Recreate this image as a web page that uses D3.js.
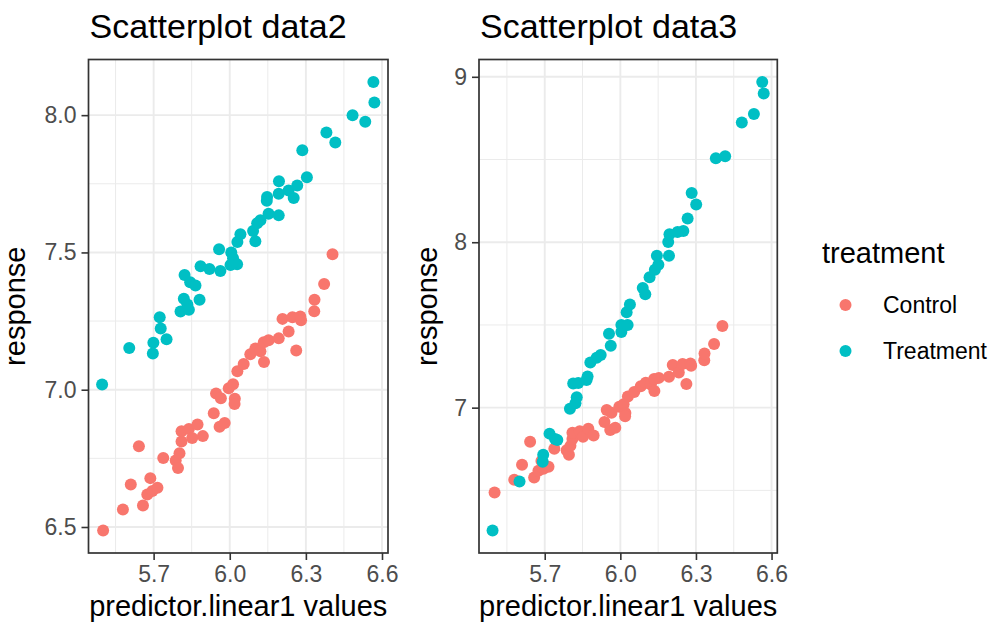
<!DOCTYPE html>
<html>
<head>
<meta charset="utf-8">
<script src="https://cdn.jsdelivr.net/npm/d3@7"></script>
<style>
  html, body { margin: 0; padding: 0; background: #ffffff; }
  svg { display: block; font-family: "Liberation Sans", Arial, Helvetica, sans-serif; }
</style>
</head>
<body>
<svg id="chart" width="993" height="625"></svg>
<script>
// Control group (same measurements in both data sets)
const controlX = [5.501,5.579,5.610,5.642,5.658,5.675,5.687,5.695,5.715,5.738,5.787,5.796,5.802,5.810,5.810,5.839,5.852,5.873,5.894,5.937,5.946,5.960,5.965,5.980,5.996,6.013,6.020,6.019,6.030,6.055,6.081,6.101,6.121,6.135,6.134,6.153,6.193,6.208,6.232,6.247,6.262,6.278,6.281,6.333,6.334,6.372,6.405];
const controlY = [6.487,6.564,6.655,6.794,6.578,6.618,6.678,6.631,6.643,6.751,6.742,6.715,6.769,6.811,6.849,6.857,6.824,6.873,6.831,6.914,6.986,6.865,6.969,6.879,7.005,7.020,6.967,6.948,7.067,7.094,7.129,7.150,7.140,7.101,7.173,7.180,7.187,7.258,7.212,7.264,7.143,7.267,7.253,7.286,7.328,7.385,7.493];

// Treatment group, data2
const treat2X = [5.497,5.604,5.697,5.699,5.724,5.728,5.751,5.806,5.819,5.833,5.839,5.822,5.844,5.865,5.881,5.885,5.920,5.963,5.958,6.006,6.013,6.029,6.003,6.030,6.042,6.092,6.101,6.108,6.121,6.153,6.193,6.147,6.146,6.193,6.194,6.232,6.252,6.266,6.304,6.286,6.381,6.416,6.484,6.534,6.566,6.570];
const treat2Y = [7.019,7.152,7.132,7.171,7.264,7.223,7.184,7.285,7.331,7.310,7.291,7.418,7.391,7.380,7.328,7.450,7.440,7.432,7.512,7.500,7.479,7.457,7.454,7.538,7.566,7.578,7.541,7.606,7.617,7.641,7.635,7.702,7.688,7.714,7.759,7.726,7.698,7.744,7.774,7.872,7.937,7.900,8.000,7.976,8.121,8.046];

// Treatment group, data3
const treat3X = [5.493,5.600,5.692,5.694,5.719,5.741,5.750,5.800,5.822,5.827,5.813,5.833,5.866,5.870,5.881,5.906,5.922,5.962,5.955,6.004,6.004,6.029,6.025,6.038,6.099,6.089,6.116,6.137,6.151,6.145,6.193,6.190,6.195,6.227,6.250,6.267,6.301,6.283,6.379,6.416,6.482,6.530,6.563,6.569];
const treat3Y = [6.257,6.554,6.673,6.715,6.843,6.810,6.804,6.993,7.026,7.063,7.146,7.149,7.167,7.188,7.273,7.301,7.318,7.374,7.447,7.458,7.500,7.500,7.577,7.623,7.686,7.724,7.789,7.834,7.864,7.918,7.918,8.002,8.048,8.062,8.068,8.144,8.228,8.298,8.508,8.520,8.724,8.775,8.969,8.899];

// Axis ticks
const xTicks = [5.7, 6.0, 6.3, 6.6];
const xTickLabels = ["5.7", "6.0", "6.3", "6.6"];
const y2Ticks = [6.5, 7.0, 7.5, 8.0];
const y2TickLabels = ["6.5", "7.0", "7.5", "8.0"];
const y3Ticks = [7, 8, 9];
const y3TickLabels = ["7", "8", "9"];

const groups = ["Control", "Treatment"];
const groupColors = ["#F8766D", "#00BFC4"];

const svg = d3.select("#chart");
const color = d3.scaleOrdinal().domain(groups).range(groupColors);

function zip(xs, ys, g) {
  return xs.map((x, i) => ({ x: x, y: ys[i], g: g }));
}

function expandedDomain(values) {
  const [lo, hi] = d3.extent(values);
  const pad = (hi - lo) * 0.05;
  return [lo - pad, hi + pad];
}

function midpoints(ticks) {
  const step = ticks[1] - ticks[0];
  const out = [ticks[0] - step / 2];
  ticks.forEach(t => out.push(t + step / 2));
  return out;
}

function drawPanel(cfg) {
  const { left, right, top, bottom } = cfg.box;
  const points = zip(controlX, controlY, "Control").concat(zip(cfg.tx, cfg.ty, "Treatment"));

  const x = d3.scaleLinear()
    .domain(expandedDomain(points.map(d => d.x)))
    .range([left, right]);
  const y = d3.scaleLinear()
    .domain(expandedDomain(points.map(d => d.y)))
    .range([bottom, top]);

  const g = svg.append("g");

  // minor grid
  const xMinor = midpoints(cfg.xTicks).filter(v => v > x.domain()[0] && v < x.domain()[1]);
  const yMinor = midpoints(cfg.yTicks).filter(v => v > y.domain()[0] && v < y.domain()[1]);
  g.selectAll(".xminor").data(xMinor).join("line")
    .attr("x1", d => x(d)).attr("x2", d => x(d))
    .attr("y1", top).attr("y2", bottom)
    .attr("stroke", "#EBEBEB").attr("stroke-width", 1);
  g.selectAll(".yminor").data(yMinor).join("line")
    .attr("y1", d => y(d)).attr("y2", d => y(d))
    .attr("x1", left).attr("x2", right)
    .attr("stroke", "#EBEBEB").attr("stroke-width", 1);

  // major grid
  g.selectAll(".xmajor").data(cfg.xTicks).join("line")
    .attr("x1", d => x(d)).attr("x2", d => x(d))
    .attr("y1", top).attr("y2", bottom)
    .attr("stroke", "#EBEBEB").attr("stroke-width", 1.9);
  g.selectAll(".ymajor").data(cfg.yTicks).join("line")
    .attr("y1", d => y(d)).attr("y2", d => y(d))
    .attr("x1", left).attr("x2", right)
    .attr("stroke", "#EBEBEB").attr("stroke-width", 1.9);

  // points
  g.append("g").selectAll("circle").data(points).join("circle")
    .attr("cx", d => x(d.x))
    .attr("cy", d => y(d.y))
    .attr("r", 6)
    .attr("fill", d => color(d.g));

  // panel border
  g.append("rect")
    .attr("x", left).attr("y", top)
    .attr("width", right - left).attr("height", bottom - top)
    .attr("fill", "none").attr("stroke", "#333333").attr("stroke-width", 1.7);

  // axes
  const xAxis = d3.axisBottom(x)
    .tickValues(cfg.xTicks)
    .tickFormat((d, i) => cfg.xLabels[i])
    .tickSize(7).tickPadding(6);
  const yAxis = d3.axisLeft(y)
    .tickValues(cfg.yTicks)
    .tickFormat((d, i) => cfg.yLabels[i])
    .tickSize(7).tickPadding(5);

  const gx = g.append("g").attr("transform", `translate(0,${bottom})`).call(xAxis);
  const gy = g.append("g").attr("transform", `translate(${left},0)`).call(yAxis);
  [gx, gy].forEach(a => {
    a.select(".domain").remove();
    a.selectAll(".tick line").attr("stroke", "#333333").attr("stroke-width", 1.6);
    a.selectAll(".tick text")
      .attr("fill", "#4D4D4D")
      .style("font-size", "23px")
      .style("font-family", "'Liberation Sans', Arial, sans-serif");
  });

  // title
  g.append("text")
    .attr("x", left + 1).attr("y", 38)
    .attr("fill", "#000")
    .style("font-size", "34px")
    .text(cfg.title);

  // axis titles
  g.append("text")
    .attr("x", (left + right) / 2).attr("y", 616)
    .attr("text-anchor", "middle")
    .attr("fill", "#000")
    .style("font-size", "29px")
    .text("predictor.linear1 values");

  g.append("text")
    .attr("transform", `translate(${cfg.yTitleX},${(top + bottom) / 2}) rotate(-90)`)
    .attr("text-anchor", "middle")
    .attr("fill", "#000")
    .style("font-size", "29px")
    .text("response");
}

drawPanel({
  title: "Scatterplot data2",
  box: { left: 88.5, right: 388, top: 59.5, bottom: 553 },
  tx: treat2X, ty: treat2Y,
  xTicks: xTicks, xLabels: xTickLabels,
  yTicks: y2Ticks, yLabels: y2TickLabels,
  yTitleX: 25
});

drawPanel({
  title: "Scatterplot data3",
  box: { left: 479, right: 777.3, top: 59.5, bottom: 553 },
  tx: treat3X, ty: treat3Y,
  xTicks: xTicks, xLabels: xTickLabels,
  yTicks: y3Ticks, yLabels: y3TickLabels,
  yTitleX: 437
});

// legend
const legend = svg.append("g");
legend.append("text")
  .attr("x", 822).attr("y", 263)
  .attr("fill", "#000")
  .style("font-size", "29px")
  .text("treatment");

const keyY = d3.scalePoint().domain(groups).range([305, 351]);
const items = legend.selectAll(".item").data(groups).join("g")
  .attr("transform", d => `translate(0,${keyY(d)})`);
items.append("circle")
  .attr("cx", 845.5).attr("cy", 0).attr("r", 6)
  .attr("fill", d => color(d));
items.append("text")
  .attr("x", 883).attr("y", 8.3)
  .attr("fill", "#000")
  .style("font-size", "23px")
  .text(d => d);
</script>
</body>
</html>
